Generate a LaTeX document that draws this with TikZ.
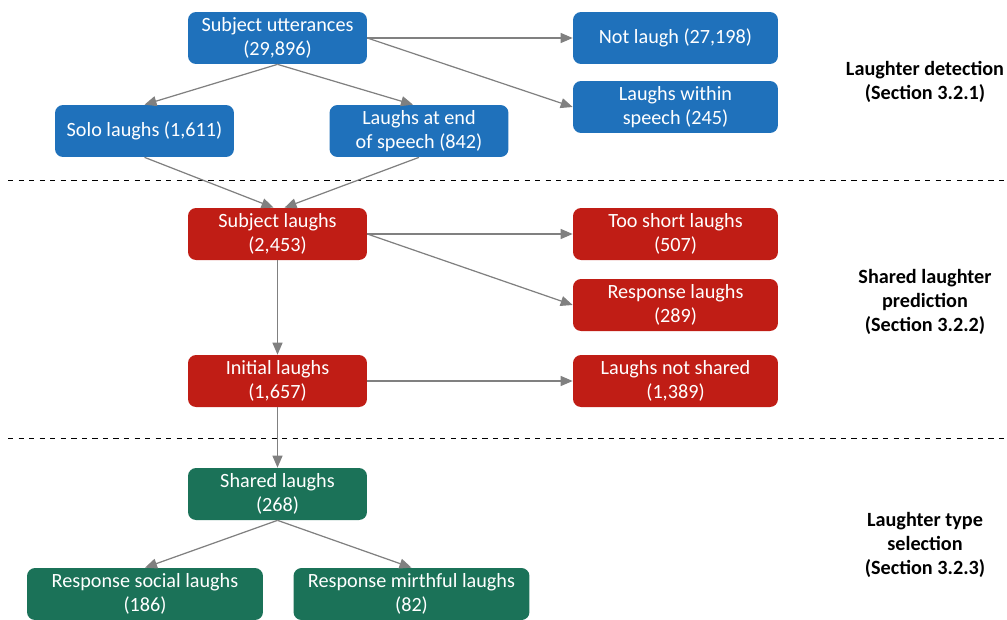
\documentclass[tikz,border=0pt]{standalone}
\usepackage{fontspec}
\setmainfont{Carlito}
\usetikzlibrary{arrows.meta}

\definecolor{stageblue}{RGB}{31,113,187}
\definecolor{stagered}{RGB}{192,29,21}
\definecolor{stagegreen}{RGB}{27,114,88}
\definecolor{flowgray}{RGB}{128,128,128}

\tikzset{
  box/.style={rounded corners=0.16cm, text=white, align=center, inner sep=0pt,
    minimum height=1.04cm, font=\fontsize{11.5}{13.7}\selectfont},
  bluebox/.style={box, fill=stageblue, minimum width=3.58cm},
  redbox/.style={box, fill=stagered, minimum width=3.58cm},
  greenbox/.style={box, fill=stagegreen, minimum width=3.58cm},
  sidebox/.style={minimum width=4.1cm},
  flow/.style={draw=flowgray, line width=0.7pt, -{Triangle[length=0.24cm, width=0.2cm]}},
  stagelabel/.style={align=center, font=\fontsize{11.5}{13.7}\selectfont\bfseries}
}

\begin{document}
\begin{tikzpicture}[x=0.02cm, y=-0.02cm]
                \useasboundingbox (0,0) rectangle (1007,619);

                % laughter detection
                \node[bluebox] (utt) at (277.5,38) {Subject utterances\\(29,896)};
                \node[bluebox, sidebox] (notlaugh) at (675.5,38) {Not laugh (27,198)};
                \node[bluebox, sidebox] (within) at (675.5,107) {Laughs within\\speech (245)};
                \node[bluebox] (solo) at (144.5,131) {Solo laughs (1,611)};
                \node[bluebox] (endspeech) at (419,131) {Laughs at end\\of speech (842)};

                \draw[flow] (utt.east) -- (notlaugh.west);
                \draw[flow] (utt.east) -- (within.west);
                \draw[flow] (utt.south) -- (solo.north);
                \draw[flow] (utt.south) -- ([xshift=-0.12cm]endspeech.north);

                \draw[dashed, line width=0.5pt] (8,180) -- (1005,180);

                % shared laughter prediction
                \node[redbox] (sublaughs) at (277.5,234) {Subject laughs\\(2,453)};
                \node[redbox, sidebox] (tooshort) at (675.5,234) {Too short laughs\\(507)};
                \node[redbox, sidebox] (response) at (675.5,305) {Response laughs\\(289)};
                \node[redbox] (initial) at (277.5,381) {Initial laughs\\(1,657)};
                \node[redbox, sidebox] (notshared) at (675.5,381) {Laughs not shared\\(1,389)};

                \draw[flow] (solo.south) -- ([xshift=-0.08cm]sublaughs.north);
                \draw[flow] (endspeech.south) -- ([xshift=0.14cm]sublaughs.north);
                \draw[flow] (sublaughs.east) -- (tooshort.west);
                \draw[flow] (sublaughs.east) -- (response.west);
                \draw[flow] (sublaughs.south) -- (initial.north);
                \draw[flow] (initial.east) -- (notshared.west);

                \draw[dashed, line width=0.5pt] (8,438) -- (1005,438);

                % laughter type selection
                \node[greenbox] (shared) at (277.5,494) {Shared laughs\\(268)};
                \node[greenbox, minimum width=4.72cm] (social) at (145,594) {Response social laughs\\(186)};
                \node[greenbox, minimum width=4.72cm] (mirthful) at (411.5,594) {Response mirthful laughs\\(82)};

                \draw[flow] (initial.south) -- (shared.north);
                \draw[flow] (shared.south) -- (social.north);
                \draw[flow] (shared.south) -- (mirthful.north);

                % stage labels
                \node[stagelabel] (det) at (925,82) {Laughter detection\\(Section 3.2.1)};
                \node[stagelabel] (pred) at (925,302) {Shared laughter\\prediction\\(Section 3.2.2)};
                \node[stagelabel] (sel) at (925,545) {Laughter type\\selection\\(Section 3.2.3)};
            \end{tikzpicture}
\end{document}
